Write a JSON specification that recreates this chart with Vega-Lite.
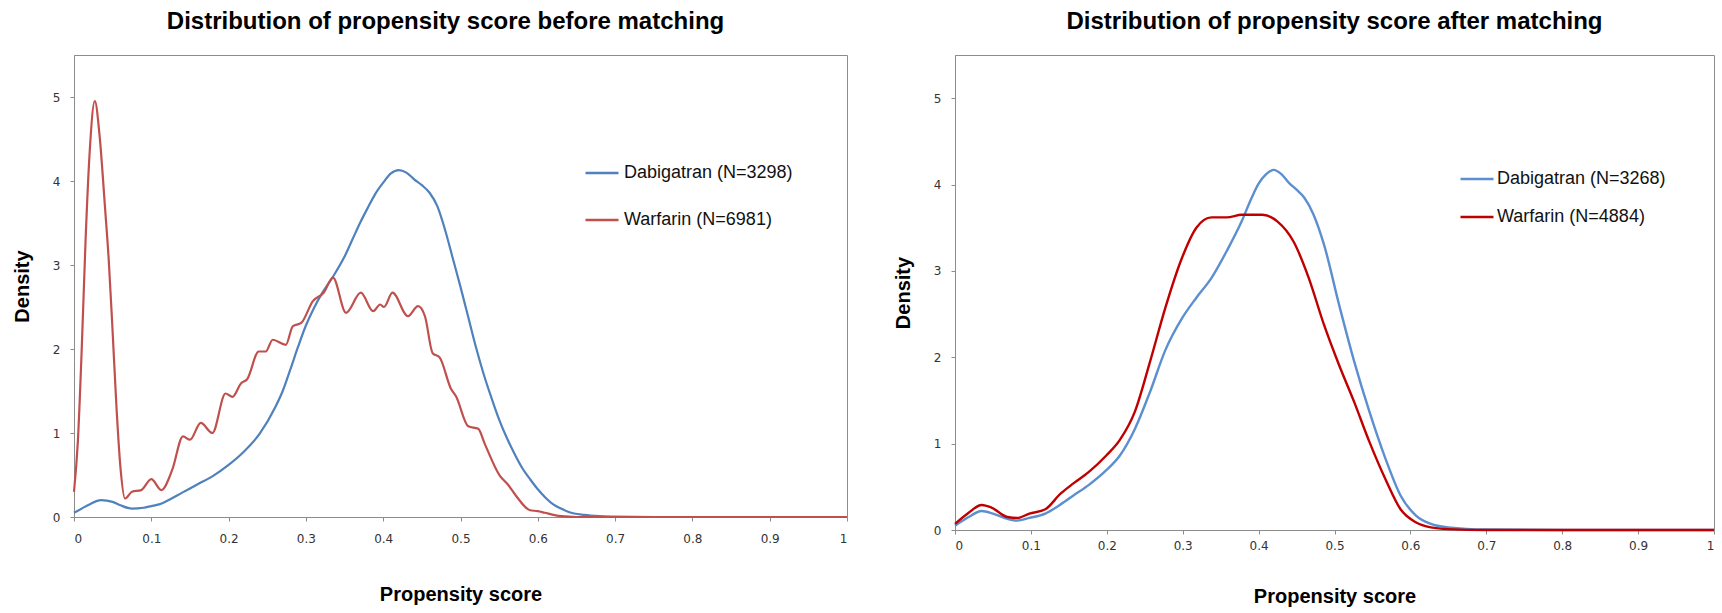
{
  "$schema": "https://vega.github.io/schema/vega-lite/v6.json",
  "background": "white",
  "padding": {"left": 11, "top": 9, "right": 5, "bottom": 0},
  "spacing": 40,
  "config": {
    "view": {"stroke": "#8c8c8c", "strokeWidth": 1},
    "axis": {
      "grid": false,
      "domainColor": "#8c8c8c",
      "tickColor": "#8c8c8c",
      "tickSize": 4,
      "labelFont": "DejaVu Sans",
      "labelFontSize": 12,
      "labelColor": "#333333",
      "titleFont": "Liberation Sans",
      "titleFontSize": 20,
      "titleFontWeight": "bold",
      "titleColor": "#000000"
    },
    "legend": {
      "labelFont": "Liberation Sans",
      "labelFontSize": 18,
      "labelColor": "#111111",
      "symbolType": "stroke",
      "symbolSize": 1089,
      "symbolStrokeWidth": 2.5,
      "labelLimit": 400
    },
    "title": {
      "font": "Liberation Sans",
      "fontSize": 24,
      "fontWeight": "bold",
      "color": "#000000",
      "anchor": "middle"
    }
  },
  "datasets": {
    "before": [
      {"group": "Dabigatran (N=3298)", "x": 0, "y": 0.05},
      {"group": "Dabigatran (N=3298)", "x": 0.01, "y": 0.1},
      {"group": "Dabigatran (N=3298)", "x": 0.02, "y": 0.15},
      {"group": "Dabigatran (N=3298)", "x": 0.035, "y": 0.2},
      {"group": "Dabigatran (N=3298)", "x": 0.05, "y": 0.18},
      {"group": "Dabigatran (N=3298)", "x": 0.06, "y": 0.14},
      {"group": "Dabigatran (N=3298)", "x": 0.075, "y": 0.1},
      {"group": "Dabigatran (N=3298)", "x": 0.09, "y": 0.11},
      {"group": "Dabigatran (N=3298)", "x": 0.1, "y": 0.13},
      {"group": "Dabigatran (N=3298)", "x": 0.11, "y": 0.15},
      {"group": "Dabigatran (N=3298)", "x": 0.12, "y": 0.19},
      {"group": "Dabigatran (N=3298)", "x": 0.14, "y": 0.29},
      {"group": "Dabigatran (N=3298)", "x": 0.16, "y": 0.39},
      {"group": "Dabigatran (N=3298)", "x": 0.18, "y": 0.49},
      {"group": "Dabigatran (N=3298)", "x": 0.2, "y": 0.62},
      {"group": "Dabigatran (N=3298)", "x": 0.22, "y": 0.78},
      {"group": "Dabigatran (N=3298)", "x": 0.24, "y": 0.99},
      {"group": "Dabigatran (N=3298)", "x": 0.26, "y": 1.3},
      {"group": "Dabigatran (N=3298)", "x": 0.27, "y": 1.5},
      {"group": "Dabigatran (N=3298)", "x": 0.28, "y": 1.76},
      {"group": "Dabigatran (N=3298)", "x": 0.29, "y": 2.03},
      {"group": "Dabigatran (N=3298)", "x": 0.3, "y": 2.28},
      {"group": "Dabigatran (N=3298)", "x": 0.31, "y": 2.48},
      {"group": "Dabigatran (N=3298)", "x": 0.32, "y": 2.65},
      {"group": "Dabigatran (N=3298)", "x": 0.335, "y": 2.86},
      {"group": "Dabigatran (N=3298)", "x": 0.35, "y": 3.1},
      {"group": "Dabigatran (N=3298)", "x": 0.36, "y": 3.3},
      {"group": "Dabigatran (N=3298)", "x": 0.37, "y": 3.5},
      {"group": "Dabigatran (N=3298)", "x": 0.38, "y": 3.68},
      {"group": "Dabigatran (N=3298)", "x": 0.39, "y": 3.85},
      {"group": "Dabigatran (N=3298)", "x": 0.4, "y": 3.98},
      {"group": "Dabigatran (N=3298)", "x": 0.41, "y": 4.09},
      {"group": "Dabigatran (N=3298)", "x": 0.42, "y": 4.13},
      {"group": "Dabigatran (N=3298)", "x": 0.43, "y": 4.1},
      {"group": "Dabigatran (N=3298)", "x": 0.44, "y": 4.02},
      {"group": "Dabigatran (N=3298)", "x": 0.45, "y": 3.95},
      {"group": "Dabigatran (N=3298)", "x": 0.46, "y": 3.86},
      {"group": "Dabigatran (N=3298)", "x": 0.47, "y": 3.7},
      {"group": "Dabigatran (N=3298)", "x": 0.48, "y": 3.42},
      {"group": "Dabigatran (N=3298)", "x": 0.49, "y": 3.08},
      {"group": "Dabigatran (N=3298)", "x": 0.5, "y": 2.74},
      {"group": "Dabigatran (N=3298)", "x": 0.51, "y": 2.38},
      {"group": "Dabigatran (N=3298)", "x": 0.52, "y": 2.02},
      {"group": "Dabigatran (N=3298)", "x": 0.53, "y": 1.7},
      {"group": "Dabigatran (N=3298)", "x": 0.54, "y": 1.42},
      {"group": "Dabigatran (N=3298)", "x": 0.55, "y": 1.16},
      {"group": "Dabigatran (N=3298)", "x": 0.56, "y": 0.94},
      {"group": "Dabigatran (N=3298)", "x": 0.57, "y": 0.75},
      {"group": "Dabigatran (N=3298)", "x": 0.58, "y": 0.58},
      {"group": "Dabigatran (N=3298)", "x": 0.59, "y": 0.45},
      {"group": "Dabigatran (N=3298)", "x": 0.6, "y": 0.33},
      {"group": "Dabigatran (N=3298)", "x": 0.61, "y": 0.23},
      {"group": "Dabigatran (N=3298)", "x": 0.62, "y": 0.15},
      {"group": "Dabigatran (N=3298)", "x": 0.63, "y": 0.1},
      {"group": "Dabigatran (N=3298)", "x": 0.64, "y": 0.06},
      {"group": "Dabigatran (N=3298)", "x": 0.66, "y": 0.025},
      {"group": "Dabigatran (N=3298)", "x": 0.68, "y": 0.01},
      {"group": "Dabigatran (N=3298)", "x": 0.7, "y": 0.005},
      {"group": "Dabigatran (N=3298)", "x": 0.75, "y": 0},
      {"group": "Dabigatran (N=3298)", "x": 0.85, "y": 0},
      {"group": "Dabigatran (N=3298)", "x": 1, "y": 0},
      {"group": "Warfarin (N=6981)", "x": 0, "y": 0.3},
      {"group": "Warfarin (N=6981)", "x": 0.005, "y": 0.9},
      {"group": "Warfarin (N=6981)", "x": 0.01, "y": 2.0},
      {"group": "Warfarin (N=6981)", "x": 0.015, "y": 3.3},
      {"group": "Warfarin (N=6981)", "x": 0.02, "y": 4.3},
      {"group": "Warfarin (N=6981)", "x": 0.027, "y": 4.95},
      {"group": "Warfarin (N=6981)", "x": 0.033, "y": 4.55},
      {"group": "Warfarin (N=6981)", "x": 0.04, "y": 3.7},
      {"group": "Warfarin (N=6981)", "x": 0.045, "y": 3.05},
      {"group": "Warfarin (N=6981)", "x": 0.05, "y": 2.2},
      {"group": "Warfarin (N=6981)", "x": 0.055, "y": 1.3},
      {"group": "Warfarin (N=6981)", "x": 0.06, "y": 0.6},
      {"group": "Warfarin (N=6981)", "x": 0.066, "y": 0.22},
      {"group": "Warfarin (N=6981)", "x": 0.075, "y": 0.3},
      {"group": "Warfarin (N=6981)", "x": 0.087, "y": 0.32},
      {"group": "Warfarin (N=6981)", "x": 0.1, "y": 0.45},
      {"group": "Warfarin (N=6981)", "x": 0.113, "y": 0.32},
      {"group": "Warfarin (N=6981)", "x": 0.127, "y": 0.56},
      {"group": "Warfarin (N=6981)", "x": 0.141, "y": 0.96},
      {"group": "Warfarin (N=6981)", "x": 0.15, "y": 0.92},
      {"group": "Warfarin (N=6981)", "x": 0.164, "y": 1.12},
      {"group": "Warfarin (N=6981)", "x": 0.179, "y": 1.0},
      {"group": "Warfarin (N=6981)", "x": 0.196, "y": 1.47},
      {"group": "Warfarin (N=6981)", "x": 0.205, "y": 1.43},
      {"group": "Warfarin (N=6981)", "x": 0.216, "y": 1.59},
      {"group": "Warfarin (N=6981)", "x": 0.224, "y": 1.64},
      {"group": "Warfarin (N=6981)", "x": 0.239, "y": 1.97},
      {"group": "Warfarin (N=6981)", "x": 0.248, "y": 1.97},
      {"group": "Warfarin (N=6981)", "x": 0.257, "y": 2.11},
      {"group": "Warfarin (N=6981)", "x": 0.274, "y": 2.05},
      {"group": "Warfarin (N=6981)", "x": 0.283, "y": 2.27},
      {"group": "Warfarin (N=6981)", "x": 0.294, "y": 2.31},
      {"group": "Warfarin (N=6981)", "x": 0.309, "y": 2.57},
      {"group": "Warfarin (N=6981)", "x": 0.323, "y": 2.67},
      {"group": "Warfarin (N=6981)", "x": 0.335, "y": 2.85},
      {"group": "Warfarin (N=6981)", "x": 0.352, "y": 2.43},
      {"group": "Warfarin (N=6981)", "x": 0.371, "y": 2.67},
      {"group": "Warfarin (N=6981)", "x": 0.387, "y": 2.45},
      {"group": "Warfarin (N=6981)", "x": 0.396, "y": 2.53},
      {"group": "Warfarin (N=6981)", "x": 0.401, "y": 2.5},
      {"group": "Warfarin (N=6981)", "x": 0.412, "y": 2.67},
      {"group": "Warfarin (N=6981)", "x": 0.432, "y": 2.39},
      {"group": "Warfarin (N=6981)", "x": 0.445, "y": 2.51},
      {"group": "Warfarin (N=6981)", "x": 0.454, "y": 2.39},
      {"group": "Warfarin (N=6981)", "x": 0.464, "y": 1.95},
      {"group": "Warfarin (N=6981)", "x": 0.473, "y": 1.9},
      {"group": "Warfarin (N=6981)", "x": 0.488, "y": 1.52},
      {"group": "Warfarin (N=6981)", "x": 0.494, "y": 1.44},
      {"group": "Warfarin (N=6981)", "x": 0.51, "y": 1.08},
      {"group": "Warfarin (N=6981)", "x": 0.523, "y": 1.05},
      {"group": "Warfarin (N=6981)", "x": 0.531, "y": 0.88},
      {"group": "Warfarin (N=6981)", "x": 0.551, "y": 0.49},
      {"group": "Warfarin (N=6981)", "x": 0.561, "y": 0.39},
      {"group": "Warfarin (N=6981)", "x": 0.572, "y": 0.25},
      {"group": "Warfarin (N=6981)", "x": 0.59, "y": 0.08},
      {"group": "Warfarin (N=6981)", "x": 0.6, "y": 0.07},
      {"group": "Warfarin (N=6981)", "x": 0.609, "y": 0.05},
      {"group": "Warfarin (N=6981)", "x": 0.63, "y": 0.01},
      {"group": "Warfarin (N=6981)", "x": 0.65, "y": 0},
      {"group": "Warfarin (N=6981)", "x": 0.8, "y": 0},
      {"group": "Warfarin (N=6981)", "x": 1, "y": 0}
    ],
    "after": [
      {"group": "Dabigatran (N=3268)", "x": 0, "y": 0.05},
      {"group": "Dabigatran (N=3268)", "x": 0.018, "y": 0.15},
      {"group": "Dabigatran (N=3268)", "x": 0.035, "y": 0.22},
      {"group": "Dabigatran (N=3268)", "x": 0.05, "y": 0.19},
      {"group": "Dabigatran (N=3268)", "x": 0.069, "y": 0.13},
      {"group": "Dabigatran (N=3268)", "x": 0.082, "y": 0.11},
      {"group": "Dabigatran (N=3268)", "x": 0.098, "y": 0.14},
      {"group": "Dabigatran (N=3268)", "x": 0.119, "y": 0.19},
      {"group": "Dabigatran (N=3268)", "x": 0.138, "y": 0.29},
      {"group": "Dabigatran (N=3268)", "x": 0.156, "y": 0.4},
      {"group": "Dabigatran (N=3268)", "x": 0.176, "y": 0.52},
      {"group": "Dabigatran (N=3268)", "x": 0.199, "y": 0.69},
      {"group": "Dabigatran (N=3268)", "x": 0.217, "y": 0.86},
      {"group": "Dabigatran (N=3268)", "x": 0.237, "y": 1.17},
      {"group": "Dabigatran (N=3268)", "x": 0.257, "y": 1.6},
      {"group": "Dabigatran (N=3268)", "x": 0.277, "y": 2.08},
      {"group": "Dabigatran (N=3268)", "x": 0.299, "y": 2.45},
      {"group": "Dabigatran (N=3268)", "x": 0.318, "y": 2.69},
      {"group": "Dabigatran (N=3268)", "x": 0.338, "y": 2.92},
      {"group": "Dabigatran (N=3268)", "x": 0.358, "y": 3.23},
      {"group": "Dabigatran (N=3268)", "x": 0.378, "y": 3.58},
      {"group": "Dabigatran (N=3268)", "x": 0.39, "y": 3.83},
      {"group": "Dabigatran (N=3268)", "x": 0.4, "y": 4.01},
      {"group": "Dabigatran (N=3268)", "x": 0.41, "y": 4.12},
      {"group": "Dabigatran (N=3268)", "x": 0.42, "y": 4.17},
      {"group": "Dabigatran (N=3268)", "x": 0.43, "y": 4.12},
      {"group": "Dabigatran (N=3268)", "x": 0.44, "y": 4.02},
      {"group": "Dabigatran (N=3268)", "x": 0.45, "y": 3.94},
      {"group": "Dabigatran (N=3268)", "x": 0.46, "y": 3.85},
      {"group": "Dabigatran (N=3268)", "x": 0.472, "y": 3.66},
      {"group": "Dabigatran (N=3268)", "x": 0.486, "y": 3.31},
      {"group": "Dabigatran (N=3268)", "x": 0.506, "y": 2.61},
      {"group": "Dabigatran (N=3268)", "x": 0.526, "y": 1.95},
      {"group": "Dabigatran (N=3268)", "x": 0.546, "y": 1.37},
      {"group": "Dabigatran (N=3268)", "x": 0.567, "y": 0.83},
      {"group": "Dabigatran (N=3268)", "x": 0.587, "y": 0.4},
      {"group": "Dabigatran (N=3268)", "x": 0.607, "y": 0.17},
      {"group": "Dabigatran (N=3268)", "x": 0.627, "y": 0.07},
      {"group": "Dabigatran (N=3268)", "x": 0.65, "y": 0.03},
      {"group": "Dabigatran (N=3268)", "x": 0.7, "y": 0.005},
      {"group": "Dabigatran (N=3268)", "x": 0.8, "y": 0},
      {"group": "Dabigatran (N=3268)", "x": 1, "y": 0},
      {"group": "Warfarin (N=4884)", "x": 0, "y": 0.07},
      {"group": "Warfarin (N=4884)", "x": 0.018, "y": 0.2},
      {"group": "Warfarin (N=4884)", "x": 0.035, "y": 0.29},
      {"group": "Warfarin (N=4884)", "x": 0.048, "y": 0.26},
      {"group": "Warfarin (N=4884)", "x": 0.069, "y": 0.15},
      {"group": "Warfarin (N=4884)", "x": 0.082, "y": 0.14},
      {"group": "Warfarin (N=4884)", "x": 0.098, "y": 0.19},
      {"group": "Warfarin (N=4884)", "x": 0.119, "y": 0.24},
      {"group": "Warfarin (N=4884)", "x": 0.139, "y": 0.42},
      {"group": "Warfarin (N=4884)", "x": 0.156, "y": 0.54},
      {"group": "Warfarin (N=4884)", "x": 0.176, "y": 0.67},
      {"group": "Warfarin (N=4884)", "x": 0.199, "y": 0.86},
      {"group": "Warfarin (N=4884)", "x": 0.217, "y": 1.04},
      {"group": "Warfarin (N=4884)", "x": 0.237, "y": 1.37},
      {"group": "Warfarin (N=4884)", "x": 0.257, "y": 1.95},
      {"group": "Warfarin (N=4884)", "x": 0.277, "y": 2.57},
      {"group": "Warfarin (N=4884)", "x": 0.299, "y": 3.15},
      {"group": "Warfarin (N=4884)", "x": 0.318, "y": 3.5},
      {"group": "Warfarin (N=4884)", "x": 0.338, "y": 3.62},
      {"group": "Warfarin (N=4884)", "x": 0.358, "y": 3.62},
      {"group": "Warfarin (N=4884)", "x": 0.378, "y": 3.65},
      {"group": "Warfarin (N=4884)", "x": 0.405, "y": 3.65},
      {"group": "Warfarin (N=4884)", "x": 0.425, "y": 3.57},
      {"group": "Warfarin (N=4884)", "x": 0.446, "y": 3.34},
      {"group": "Warfarin (N=4884)", "x": 0.466, "y": 2.92},
      {"group": "Warfarin (N=4884)", "x": 0.486, "y": 2.38},
      {"group": "Warfarin (N=4884)", "x": 0.506, "y": 1.91},
      {"group": "Warfarin (N=4884)", "x": 0.526, "y": 1.48},
      {"group": "Warfarin (N=4884)", "x": 0.546, "y": 1.02},
      {"group": "Warfarin (N=4884)", "x": 0.567, "y": 0.59},
      {"group": "Warfarin (N=4884)", "x": 0.587, "y": 0.24},
      {"group": "Warfarin (N=4884)", "x": 0.607, "y": 0.09},
      {"group": "Warfarin (N=4884)", "x": 0.627, "y": 0.03},
      {"group": "Warfarin (N=4884)", "x": 0.65, "y": 0.01},
      {"group": "Warfarin (N=4884)", "x": 0.7, "y": 0},
      {"group": "Warfarin (N=4884)", "x": 1, "y": 0}
    ]
  },
  "hconcat": [
    {
      "width": 773,
      "height": 462,
      "title": {"text": "Distribution of propensity score before matching", "offset": 21, "dx": -15},
      "data": {"name": "before"},
      "mark": {"type": "line", "interpolate": "monotone", "strokeWidth": 2.2},
      "encoding": {
        "x": {
          "field": "x", "type": "quantitative",
          "scale": {"domain": [0, 1], "nice": false},
          "axis": {"title": "Propensity score", "values": [0, 0.1, 0.2, 0.3, 0.4, 0.5, 0.6, 0.7, 0.8, 0.9, 1], "format": "~g", "labelPadding": 12, "titlePadding": 40}
        },
        "y": {
          "field": "y", "type": "quantitative",
          "scale": {"domain": [0, 5.5], "nice": false},
          "axis": {"title": "Density", "values": [0, 1, 2, 3, 4, 5], "format": "~g", "labelPadding": 10, "titlePadding": 20}
        },
        "color": {
          "field": "group", "type": "nominal",
          "scale": {"domain": ["Dabigatran (N=3298)", "Warfarin (N=6981)"], "range": ["#4f81bd", "#c0504d"]},
          "legend": {"title": null, "orient": "none", "legendX": 510, "legendY": 100, "rowPadding": 20, "labelOffset": 4}
        }
      }
    },
    {
      "width": 759,
      "height": 475,
      "title": {"text": "Distribution of propensity score after matching", "offset": 21, "dx": 0},
      "data": {"name": "after"},
      "mark": {"type": "line", "interpolate": "monotone", "strokeWidth": 2.4},
      "encoding": {
        "x": {
          "field": "x", "type": "quantitative",
          "scale": {"domain": [0, 1], "nice": false},
          "axis": {"title": "Propensity score", "values": [0, 0.1, 0.2, 0.3, 0.4, 0.5, 0.6, 0.7, 0.8, 0.9, 1], "format": "~g", "labelPadding": 6, "titlePadding": 35}
        },
        "y": {
          "field": "y", "type": "quantitative",
          "scale": {"domain": [0, 5.5], "nice": false},
          "axis": {"title": "Density", "values": [0, 1, 2, 3, 4, 5], "format": "~g", "labelPadding": 10, "titlePadding": 20}
        },
        "color": {
          "field": "group", "type": "nominal",
          "scale": {"domain": ["Dabigatran (N=3268)", "Warfarin (N=4884)"], "range": ["#5b8fcf", "#c00000"]},
          "legend": {"title": null, "orient": "none", "legendX": 504, "legendY": 106, "rowPadding": 11, "labelOffset": 2}
        }
      }
    }
  ],
  "resolve": {"scale": {"color": "independent"}, "legend": {"color": "independent"}}
}
